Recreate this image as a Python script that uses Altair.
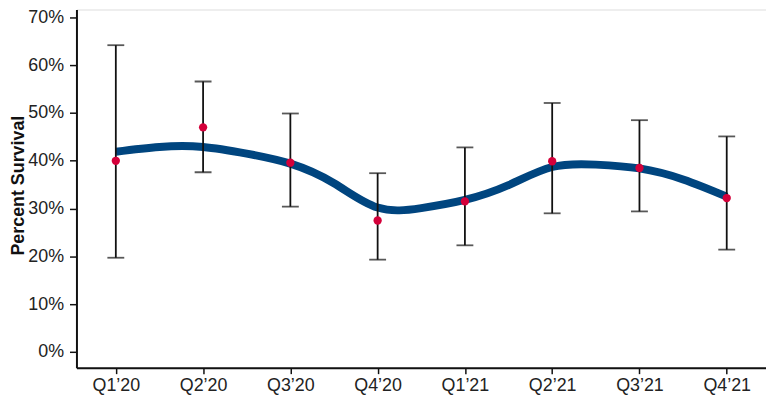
import json
import altair as alt
import pandas as pd

# ---- data ----
quarters = ["Q1’20", "Q2’20", "Q3’20", "Q4’20", "Q1’21", "Q2’21", "Q3’21", "Q4’21"]
survival = [40.0, 47.0, 39.6, 27.5, 31.5, 39.9, 38.5, 32.2]
lower = [19.7, 37.6, 30.4, 19.3, 22.3, 29.0, 29.4, 21.4]
upper = [64.2, 56.6, 49.9, 37.4, 42.8, 52.1, 48.5, 45.1]

# smoothed trend curve sampled every half quarter
smooth_pos = [0, 0.5, 1, 1.5, 2, 2.5, 3, 3.5, 4, 4.5, 5, 5.5, 6, 6.5, 7]
smooth_val = [41.9, 42.9, 42.9, 41.5, 39.4, 35.3, 30.2, 30.1, 31.8, 34.9, 38.7, 39.2, 38.4, 36.1, 32.5]

y_ticks = [0, 10, 20, 30, 40, 50, 60, 70]

pts = pd.DataFrame({
    "pos": list(range(len(quarters))),
    "quarter": quarters,
    "survival": survival,
    "lower": lower,
    "upper": upper,
})
curve = pd.DataFrame({"pos": smooth_pos, "val": smooth_val})

FONT = "Liberation Sans"
label_expr = json.dumps(quarters) + "[datum.value]"

x_scale = alt.Scale(domain=[-0.451, 7.45], nice=False, zero=False)
y_scale = alt.Scale(domain=[-3.32, 71.67], nice=False, zero=False)

x_axis = alt.Axis(
    values=list(range(len(quarters))), labelExpr=label_expr, title=None,
    grid=False, domainColor="#111", domainWidth=2, tickColor="#111", tickWidth=1.5,
    tickSize=6, labelPadding=3, labelFont=FONT, labelFontSize=18, labelColor="#222",
)
y_axis = alt.Axis(
    values=y_ticks, labelExpr="datum.value + '%'", title="Percent Survival",
    grid=False, domainColor="#111", domainWidth=2, tickColor="#111", tickWidth=1.5,
    tickSize=7, labelPadding=6, labelFont=FONT, labelFontSize=18, labelColor="#222",
    titleFont=FONT, titleFontSize=18, titleFontWeight="bold", titleColor="#111",
    titleX=-53, titleY=177, titleAlign="center", titleBaseline="alphabetic", titleAngle=270,
)

base = alt.Chart(pts)

line = alt.Chart(curve).mark_line(
    interpolate="natural", color="#00457f", strokeWidth=8, strokeCap="butt"
).encode(
    x=alt.X("pos:Q", scale=x_scale, axis=x_axis),
    y=alt.Y("val:Q", scale=y_scale, axis=y_axis),
)

bars = base.mark_rule(color="#111111", strokeWidth=1.8).encode(
    x=alt.X("pos:Q", scale=x_scale),
    y=alt.Y("lower:Q", scale=y_scale),
    y2="upper:Q",
)
cap_lo = base.mark_tick(orient="horizontal", size=17, thickness=1.8, color="#111111").encode(
    x=alt.X("pos:Q", scale=x_scale),
    y=alt.Y("lower:Q", scale=y_scale),
)
cap_hi = base.mark_tick(orient="horizontal", size=17, thickness=1.8, color="#111111").encode(
    x=alt.X("pos:Q", scale=x_scale),
    y=alt.Y("upper:Q", scale=y_scale),
)
dots = base.mark_circle(size=70, color="#d4003a", opacity=1).encode(
    x=alt.X("pos:Q", scale=x_scale),
    y=alt.Y("survival:Q", scale=y_scale),
)

chart = alt.layer(line, bars, cap_lo, cap_hi, dots).properties(
    width=695, height=361,
    autosize=alt.AutoSizeParams(type="none"),
    padding={"left": 69, "top": 0, "right": 0, "bottom": 26},
).configure_view(stroke=None).configure(background="white")

chart.save("out.html", embed_options={"renderer": "svg", "actions": False})
